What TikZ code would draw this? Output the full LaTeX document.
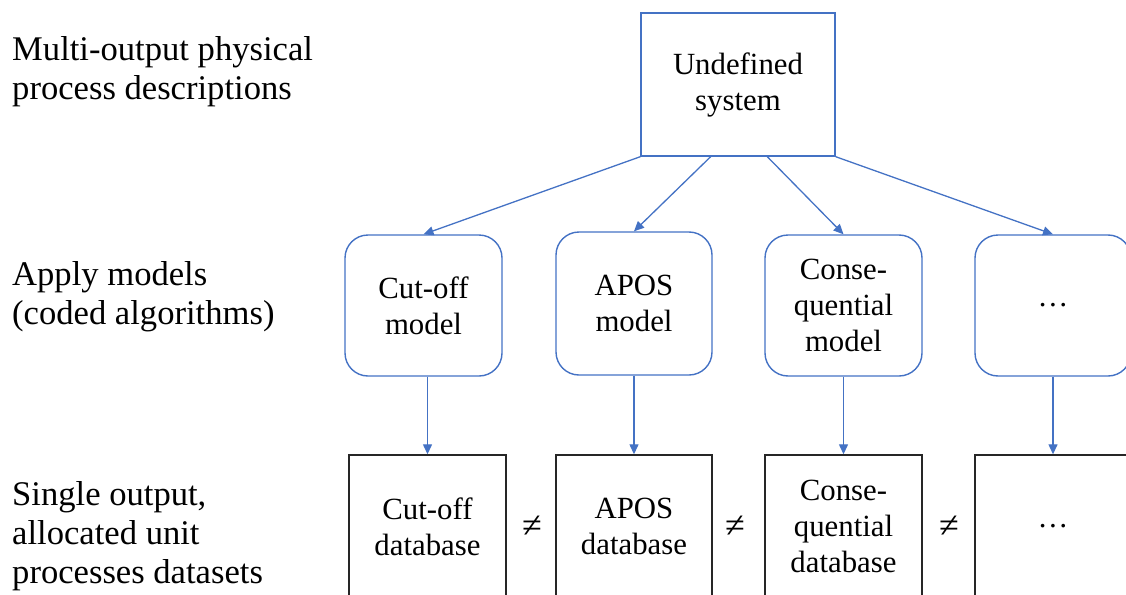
\documentclass[tikz,border=0pt]{standalone}
\usepackage{fontspec}
\setmainfont{DejaVu Serif}
\newfontfamily\timesface{Liberation Serif}
\usetikzlibrary{arrows.meta,calc}
\definecolor{accent}{HTML}{4472C4}
\definecolor{dbline}{HTML}{262626}

\begin{document}
\begin{tikzpicture}[x=1pt,y=-1pt,
  boxtext/.style={align=center, inner sep=0pt, font=\fontsize{30.8}{36}\selectfont\timesface},
  sysbox/.style={boxtext, draw=accent, line width=1.4pt, minimum width=194pt, minimum height=143pt},
  modelbox/.style={boxtext, draw=accent, line width=1.4pt, rounded corners=23pt, minimum width=157pt, minimum height=141pt},
  dbbox/.style={boxtext, draw=dbline, line width=1.4pt, minimum width=157pt, minimum height=143pt},
  rowlabel/.style={align=left, anchor=north west, inner sep=0pt, font=\fontsize{34.6}{39}\selectfont\timesface},
  neqsign/.style={inner sep=0pt, font=\fontsize{36}{40}\selectfont\timesface},
  flow/.style={draw=accent, line width=1.3pt, -{Triangle[length=10pt,width=9pt]}}
]
\useasboundingbox (0,0) rectangle (1126,594);

% row labels
\node[rowlabel] (lab1) at (12,36) {Multi-output physical\\process descriptions};
\node[rowlabel] (lab2) at (12,261) {Apply models\\(coded algorithms)};
\node[rowlabel] (lab3) at (12,481) {Single output,\\allocated unit\\processes datasets};

% undefined system
\node[sysbox] (sys) at (738,84.5) {Undefined\\system};

% models
\node[modelbox] (m1) at (423.5,305.5) {Cut-off\\model};
\node[modelbox, minimum width=156pt, minimum height=143pt] (m2) at (634,303.5) {APOS\\model};
\node[modelbox] (m3) at (843.5,305.5) {Conse-\\quential\\model};
\node[modelbox, minimum width=156pt] (m4) at (1053,305.5) {…};

% databases (their lower edges run off the page)
\node[dbbox] (d1) at (427.5,526.5) {Cut-off\\database};
\node[dbbox, minimum width=156pt] (d2) at (634,526.5) {APOS\\database};
\node[dbbox] (d3) at (843.5,526.5) {Conse-\\quential\\database};
\node[dbbox, minimum width=156pt] (d4) at (1053,526.5) {…};

% inequality signs between databases
\node[neqsign] (ne1) at (532,527) {≠};
\node[neqsign] (ne2) at (735,527) {≠};
\node[neqsign] (ne3) at (949,527) {≠};

% system to models
\draw[flow] (sys.south west) -- (m1.north);
\draw[flow] ($(sys.south west)!0.36!(sys.south east)$) -- (m2.north);
\draw[flow] ($(sys.south west)!0.65!(sys.south east)$) -- (m3.north);
\draw[flow] (sys.south east) -- (m4.north);

% models to databases
\draw[flow] (d1.north |- m1.south) -- (d1.north);
\draw[flow] (m2.south) -- (d2.north);
\draw[flow] (m3.south) -- (d3.north);
\draw[flow] (m4.south) -- (d4.north);
\end{tikzpicture}
\end{document}
